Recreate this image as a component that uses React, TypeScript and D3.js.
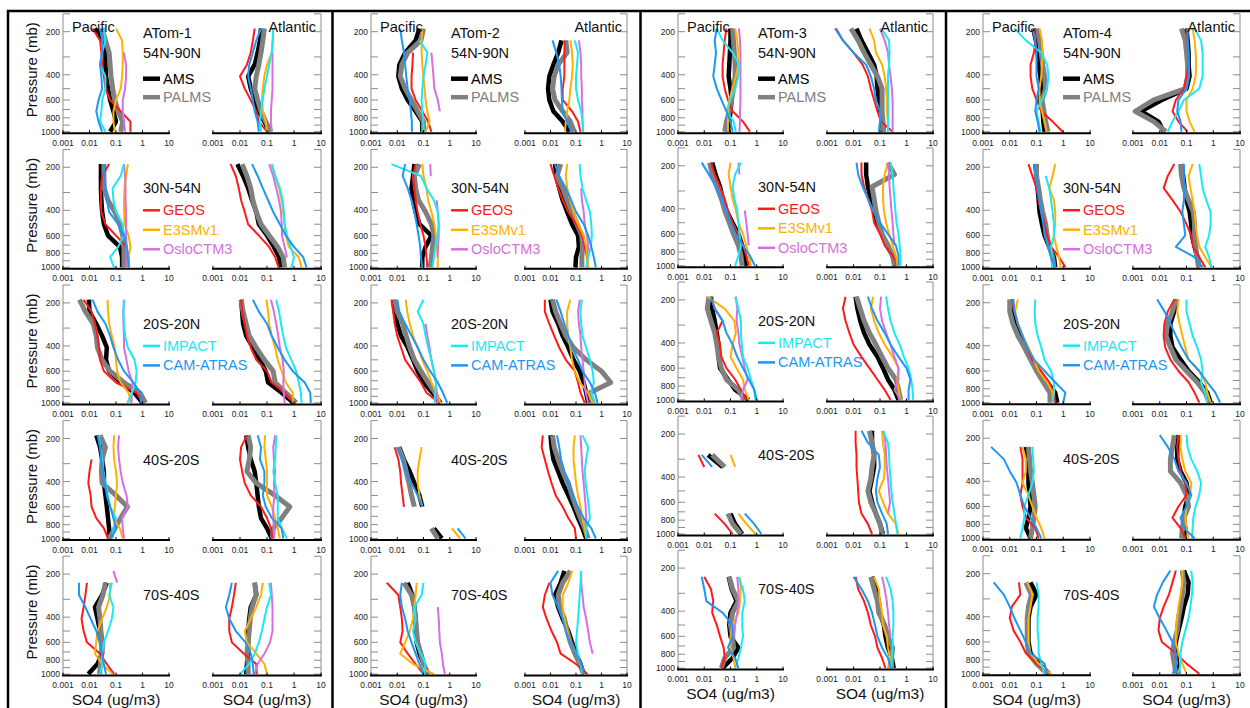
import React from 'react';
import * as d3 from 'd3';

const _ = null;
const LEVELS = [190, 230, 280, 340, 410, 500, 600, 720, 850, 1000];
const SERIES = ['AMS', 'PALMS', 'GEOS', 'E3SMv1', 'OsloCTM3', 'IMPACT', 'CAM-ATRAS'];
const COLORS = ['#000000', '#808080', '#ff1a1a', '#ffb000', '#d670e0', '#1ae8f5', '#1e96f5'];
const WIDTHS = [4.5, 5, 2, 2, 2, 2, 2];
const CAMPAIGNS = ['ATom-1', 'ATom-2', 'ATom-3', 'ATom-4'];
const REGIONS = ['54N-90N', '30N-54N', '20S-20N', '40S-20S', '70S-40S'];
const X_TICKS = [0.001, 0.01, 0.1, 1, 10];
const X_TICK_LABELS = ['0.001', '0.01', '0.1', '1', '10'];
const Y_TICKS = [200, 400, 600, 800, 1000];
const NIL = [_, _, _, _, _, _, _, _, _, _];

// order in each panel: AMS, PALMS, GEOS, E3SMv1, OsloCTM3, IMPACT, CAM-ATRAS
// ---------- ATom-1 ----------
const A1_R1_P = [
  [0.016, 0.035, 0.04, 0.04, 0.042, 0.05, 0.06, 0.08, 0.1, 0.06],
  [0.03, 0.04, 0.055, 0.06, 0.065, 0.075, 0.09, 0.12, 0.18, 0.15],
  [0.013, 0.025, 0.028, 0.03, 0.035, 0.04, 0.06, 0.15, 0.35, 0.35],
  [0.1, 0.17, 0.18, 0.18, 0.17, 0.15, 0.1, 0.08, 0.08, 0.09],
  [_, _, 0.2, 0.24, 0.24, 0.22, 0.18, 0.18, 0.2, 0.22],
  [0.035, 0.04, 0.03, 0.025, 0.04, 0.04, 0.03, 0.028, 0.025, 0.04],
  [0.025, 0.03, 0.03, 0.025, 0.028, 0.03, 0.022, 0.018, 0.022, 0.03],
];
const A1_R1_A = [
  [0.06, 0.055, 0.045, 0.035, 0.02, 0.025, 0.035, 0.05, 0.08, 0.12],
  [0.08, 0.07, 0.06, 0.05, 0.04, 0.035, 0.045, 0.06, 0.09, 0.14],
  [0.035, 0.03, 0.025, 0.018, 0.01, 0.015, 0.025, 0.04, 0.05, 0.1],
  [0.17, 0.17, 0.15, 0.1, 0.08, 0.07, 0.065, 0.07, 0.09, 0.1],
  [_, _, 0.16, 0.16, 0.16, 0.16, 0.15, 0.14, 0.14, 0.15],
  [0.17, 0.16, 0.15, 0.12, 0.1, 0.08, 0.07, 0.06, 0.055, 0.06],
  [0.06, 0.04, 0.03, 0.022, 0.02, 0.025, 0.03, 0.035, 0.045, 0.05],
];
const A1_R2_P = [
  [0.027, 0.027, 0.027, 0.028, 0.03, 0.035, 0.05, 0.14, 0.17, 0.17],
  [0.035, 0.035, 0.036, 0.05, 0.09, 0.14, 0.18, 0.2, 0.2, 0.2],
  [0.055, 0.03, 0.027, 0.027, 0.028, 0.04, 0.1, 0.25, 0.3, 0.3],
  [0.28, 0.24, 0.21, 0.2, 0.2, 0.21, 0.3, 0.35, 0.3, 0.3],
  [0.2, 0.22, 0.23, 0.23, 0.24, 0.24, 0.24, 0.25, 0.25, 0.25],
  [0.2, 0.15, 0.075, 0.08, 0.1, 0.18, 0.2, 0.12, 0.06, 0.085],
  [0.035, 0.035, 0.04, 0.045, 0.055, 0.12, 0.2, 0.26, 0.28, 0.3],
];
const A1_R2_A = [
  [0.008, 0.013, 0.02, 0.028, 0.04, 0.05, 0.1, 0.18, 0.28, 0.32],
  [0.012, 0.018, 0.025, 0.03, 0.04, 0.06, 0.12, 0.25, 0.4, 0.45],
  [0.0045, 0.007, 0.009, 0.011, 0.015, 0.02, 0.05, 0.12, 0.2, 0.27],
  [0.15, 0.2, 0.28, 0.35, 0.4, 0.45, 0.5, 0.65, 1.5, 1.9],
  [0.12, 0.17, 0.22, 0.28, 0.33, 0.35, 0.36, 0.45, 0.55, _],
  [0.15, 0.2, 0.3, 0.38, 0.42, 0.45, 0.55, 0.75, 1.0, 0.8],
  [0.028, 0.045, 0.07, 0.11, 0.17, 0.3, 0.5, 1.0, 2.2, 2.9],
];
const A1_R3_P = [
  [0.0095, 0.01, 0.018, 0.03, 0.045, 0.042, 0.055, 0.15, 0.5, 1.0],
  [0.0042, 0.007, 0.014, 0.018, 0.02, 0.03, 0.06, 0.2, 0.8, 1.3],
  [0.006, 0.012, 0.016, 0.02, 0.023, 0.025, 0.035, 0.1, 0.6, 1.0],
  [0.048, 0.05, 0.055, 0.07, 0.09, 0.1, 0.11, 0.15, 0.3, 0.36],
  [0.2, 0.19, 0.19, 0.2, 0.2, 0.25, 0.3, 0.42, 0.4, 0.38],
  [0.2, 0.19, 0.2, 0.22, 0.28, 0.5, 0.6, 0.55, 0.4, 0.27],
  [0.013, 0.02, 0.04, 0.06, 0.08, 0.12, 0.2, 0.45, 0.85, 0.9],
];
const A1_R3_A = [
  [0.011, 0.012, 0.013, 0.017, 0.03, 0.055, 0.09, 0.11, 0.35, 0.95],
  [0.011, 0.013, 0.017, 0.022, 0.04, 0.08, 0.17, 0.2, 0.5, 1.2],
  [0.011, 0.012, 0.015, 0.018, 0.025, 0.04, 0.1, 0.15, 0.45, 1.0],
  [0.095, 0.11, 0.12, 0.15, 0.2, 0.25, 0.35, 0.5, 0.9, 0.95],
  [0.14, 0.18, 0.22, 0.26, 0.3, 0.38, 0.42, 0.4, 0.42, 0.45],
  [0.22, 0.28, 0.33, 0.4, 0.5, 0.8, 1.2, 1.5, 1.8, 1.9],
  [0.03, 0.05, 0.1, 0.15, 0.25, 0.45, 0.9, 2.5, 4.0, 4.2],
];
const A1_R4_P = [
  [0.018, 0.025, 0.03, 0.035, 0.035, 0.04, 0.045, 0.05, 0.055, 0.055],
  [0.025, 0.04, 0.03, 0.028, 0.03, 0.1, 0.27, 0.15, 0.09, 0.055],
  [_, _, 0.012, 0.01, 0.009, 0.011, 0.012, 0.018, 0.035, 0.05],
  [0.085, 0.08, 0.085, 0.1, 0.11, 0.1, 0.09, 0.08, 0.14, 0.18],
  [0.13, 0.12, 0.13, 0.15, 0.18, 0.25, 0.28, 0.17, 0.18, 0.2],
  [0.022, 0.026, 0.03, 0.034, 0.04, 0.05, 0.06, 0.1, 0.08, 0.075],
  [0.02, 0.025, 0.028, 0.033, 0.038, 0.045, 0.06, 0.08, 0.1, 0.065],
];
const A1_R4_A = [
  [0.017, 0.02, 0.025, 0.035, 0.04, 0.045, 0.05, 0.06, 0.1, 0.15],
  [0.02, 0.025, 0.022, 0.018, 0.04, 0.2, 0.7, 0.35, 0.17, 0.16],
  [0.018, 0.011, 0.01, 0.012, 0.015, 0.025, 0.06, 0.1, 0.14, 0.16],
  [0.085, 0.08, 0.09, 0.1, 0.1, 0.1, 0.15, 0.2, 0.25, 0.3],
  [0.2, 0.17, 0.18, 0.2, 0.18, 0.19, 0.17, 0.17, 0.18, 0.18],
  [0.22, 0.21, 0.2, 0.17, 0.2, 0.25, 0.25, 0.25, 0.35, 0.55],
  [0.045, 0.06, 0.055, 0.08, 0.08, 0.07, 0.09, 0.15, 0.35, 0.4],
];
const A1_R5_P = [
  [_, 0.045, 0.03, 0.016, 0.02, 0.025, 0.03, 0.03, 0.02, 0.009],
  [_, 0.04, 0.032, 0.022, 0.025, 0.027, 0.03, 0.028, 0.026, 0.024],
  [_, 0.008, 0.007, 0.006, 0.005, 0.006, 0.008, 0.025, 0.045, 0.085],
  [_, 0.06, 0.06, 0.045, 0.03, 0.02, 0.018, 0.016, 0.03, 0.075],
  [0.08, 0.11, _, _, _, _, _, _, _, _],
  [_, 0.07, 0.055, 0.08, 0.07, 0.05, 0.035, 0.03, 0.03, 0.025],
  [_, 0.004, 0.004, 0.007, 0.011, 0.018, 0.024, 0.03, 0.035, 0.042],
];
const A1_R5_A = [
  [_, 0.035, 0.04, 0.025, 0.022, 0.02, 0.02, 0.02, 0.018, 0.017],
  [_, 0.035, 0.04, 0.028, 0.024, 0.022, 0.02, 0.018, 0.02, 0.02],
  [_, 0.007, 0.006, 0.005, 0.004, 0.004, 0.005, 0.014, 0.04, 0.042],
  [_, 0.07, 0.06, 0.04, 0.025, 0.015, 0.018, 0.04, 0.08, 0.1],
  [_, 0.14, 0.15, 0.16, 0.16, 0.16, 0.13, 0.08, 0.045, 0.035],
  [_, 0.12, 0.14, 0.1, 0.08, 0.065, 0.05, 0.035, 0.022, 0.01],
  [_, 0.005, 0.004, 0.003, 0.004, 0.007, 0.016, 0.025, 0.03, 0.032],
];

// ---------- ATom-2 ----------
const A2_R1_P = [
  [0.07, 0.05, 0.02, 0.012, 0.011, 0.015, 0.025, 0.05, 0.09, 0.09],
  [0.1, 0.08, 0.025, 0.015, 0.013, 0.02, 0.035, 0.06, 0.1, 0.1],
  [_, _, 0.04, 0.038, 0.035, 0.035, 0.05, 0.09, 0.15, 0.2],
  [0.09, 0.085, 0.085, 0.09, 0.1, 0.11, 0.12, 0.14, 0.17, 0.12],
  [_, _, 0.2, 0.22, 0.24, 0.26, 0.35, 0.42, _, _],
  [_, 0.07, 0.14, 0.12, 0.1, 0.09, 0.085, 0.09, 0.1, 0.1],
  [0.013, 0.015, 0.018, 0.02, 0.022, 0.025, 0.03, 0.033, 0.036, 0.036],
];
const A2_R1_A = [
  [_, 0.027, 0.02, 0.013, 0.009, 0.008, 0.009, 0.013, 0.03, 0.055],
  [_, 0.04, 0.045, 0.02, 0.014, 0.012, 0.015, 0.03, 0.06, 0.085],
  [_, 0.036, 0.035, 0.035, 0.035, 0.03, 0.03, 0.07, 0.12, 0.15],
  [_, 0.06, 0.07, 0.075, 0.07, 0.06, 0.055, 0.045, 0.04, 0.037],
  [_, 0.13, 0.15, 0.16, 0.16, 0.17, 0.17, 0.18, 0.18, 0.19],
  [_, 0.09, 0.12, 0.11, 0.1, 0.1, 0.12, 0.16, 0.18, 0.19],
  [_, 0.012, 0.017, 0.022, 0.025, 0.027, 0.028, 0.03, 0.045, 0.065],
];
const A2_R2_P = [
  [0.045, 0.04, 0.035, 0.04, 0.05, 0.07, 0.2, 0.12, 0.09, 0.09],
  [0.07, 0.045, 0.05, 0.065, 0.12, 0.2, 0.25, 0.22, 0.2, 0.18],
  [0.05, 0.04, 0.045, 0.05, 0.06, 0.075, 0.1, 0.12, 0.13, 0.14],
  [0.09, 0.1, 0.13, 0.15, 0.2, 0.26, 0.3, 0.32, 0.35, 0.35],
  [0.18, 0.19, _, 0.32, 0.35, 0.38, 0.38, 0.36, 0.34, _],
  [0.006, 0.08, 0.13, 0.25, 0.35, 0.38, 0.35, 0.28, 0.25, 0.22],
  [0.02, 0.016, 0.025, 0.035, 0.045, 0.055, 0.065, 0.075, 0.08, 0.09],
];
const A2_R2_A = [
  [0.015, 0.017, 0.022, 0.03, 0.045, 0.07, 0.12, 0.13, 0.1, 0.095],
  [0.025, 0.018, 0.03, 0.045, 0.07, 0.11, 0.17, 0.18, 0.17, 0.17],
  [0.01, 0.014, 0.02, 0.03, 0.05, 0.1, 0.18, 0.22, 0.27, 0.3],
  [0.045, 0.04, 0.045, 0.06, 0.08, 0.12, 0.2, 0.25, 0.28, 0.3],
  [_, _, 0.16, 0.17, 0.2, 0.22, 0.27, 0.3, 0.3, _],
  [0.14, 0.15, 0.18, 0.25, 0.35, 0.4, 0.42, 0.38, 0.3, 0.25],
  [0.015, 0.022, 0.04, 0.065, 0.1, 0.2, 0.3, 0.4, 0.5, 0.6],
];
const A2_R3_P = [
  [0.007, 0.008, 0.01, 0.014, 0.025, 0.04, 0.06, 0.1, 0.22, 0.45],
  [0.008, 0.01, 0.016, 0.022, 0.03, 0.045, 0.08, 0.15, 0.28, 0.38],
  [0.006, 0.007, 0.008, 0.01, 0.014, 0.02, 0.04, 0.08, 0.13, 0.4],
  [0.021, 0.024, 0.03, 0.04, 0.06, 0.09, 0.14, 0.2, 0.3, 0.45],
  [_, _, 0.12, 0.14, 0.17, 0.2, 0.25, 0.3, 0.32, 0.35],
  [0.1, 0.06, 0.1, 0.12, 0.15, 0.2, 0.25, 0.3, 0.28, 0.26],
  [0.01, 0.012, 0.02, 0.035, 0.06, 0.1, 0.18, 0.35, 0.55, 0.8],
];
const A2_R3_A = [
  [0.01, 0.012, 0.02, 0.03, 0.05, 0.08, 0.14, 0.2, 0.25, 0.3],
  [0.012, 0.016, 0.025, 0.04, 0.08, 0.25, 1.0, 2.3, 0.35, 0.45],
  [0.006, 0.006, 0.009, 0.014, 0.022, 0.04, 0.09, 0.12, 0.15, 0.22],
  [0.06, 0.045, 0.045, 0.05, 0.06, 0.07, 0.09, 0.14, 0.3, 0.45],
  [0.14, 0.12, 0.13, 0.15, 0.16, 0.18, 0.2, 0.22, 0.24, 0.3],
  [0.17, 0.15, 0.16, 0.18, 0.25, 0.35, 0.45, 0.5, 0.4, 0.55],
  [0.017, 0.025, 0.035, 0.05, 0.07, 0.12, 0.18, 0.35, 0.55, 0.7],
];
const A2_R4_P = [
  [_, 0.012, 0.018, 0.03, 0.045, 0.07, 0.09, _, 0.25, 0.5],
  [_, 0.011, 0.017, 0.022, 0.028, 0.035, 0.045, _, 0.2, 0.35],
  [_, 0.008, 0.011, 0.013, 0.014, 0.016, 0.018, _, _, _],
  [_, 0.085, 0.07, 0.06, 0.06, 0.07, 0.09, _, 1.2, 2.5],
  NIL,
  NIL,
  [_, 0.01, 0.015, 0.022, 0.035, 0.06, 0.09, _, 2.0, 4.0],
];
const A2_R4_A = [
  [0.01, 0.011, 0.013, 0.02, 0.03, 0.05, 0.08, 0.12, 0.18, 0.25],
  [0.012, 0.014, 0.02, 0.03, 0.05, 0.07, 0.1, 0.15, 0.22, 0.3],
  [0.005, 0.0045, 0.006, 0.008, 0.011, 0.016, 0.03, 0.05, 0.09, 0.1],
  [0.09, 0.08, 0.08, 0.09, 0.1, 0.12, 0.15, 0.18, 0.22, 0.25],
  [0.15, 0.16, 0.17, 0.18, 0.2, 0.22, 0.24, 0.25, 0.25, 0.25],
  [0.18, 0.3, 0.25, 0.22, 0.24, 0.28, 0.32, 0.35, 0.25, 0.25],
  [0.018, 0.022, 0.026, 0.035, 0.05, 0.07, 0.12, 0.2, 0.4, 0.6],
];
const A2_R5_P = [
  [_, 0.025, 0.038, 0.045, 0.05, 0.05, 0.055, 0.07, 0.1, 0.15],
  [_, 0.018, 0.035, 0.045, 0.05, 0.055, 0.06, 0.08, 0.1, 0.15],
  [_, 0.004, 0.011, 0.013, 0.015, 0.016, 0.013, 0.025, 0.05, 0.1],
  [_, 0.055, 0.05, 0.045, 0.04, 0.03, 0.02, 0.013, 0.04, 0.25],
  [_, _, _, 0.35, 0.38, 0.4, 0.42, 0.5, 0.55, 0.65],
  [_, 0.1, 0.085, 0.045, 0.05, 0.04, 0.05, 0.08, 0.12, 0.1],
  [_, 0.015, 0.013, 0.015, 0.02, 0.025, 0.035, 0.05, 0.07, 0.1],
];
const A2_R5_A = [
  [0.035, 0.025, 0.015, 0.02, 0.03, 0.05, 0.07, 0.1, 0.15, 0.2],
  [0.06, 0.03, 0.02, 0.023, 0.035, 0.045, 0.06, 0.09, 0.14, 0.2],
  [_, 0.009, 0.006, 0.005, 0.007, 0.011, 0.018, 0.025, 0.1, 0.28],
  [0.07, 0.05, 0.03, 0.03, 0.035, 0.045, 0.06, 0.1, 0.15, 0.2],
  [0.16, 0.16, 0.18, 0.2, 0.25, 0.3, 0.35, 0.45, _, _],
  [0.16, 0.15, 0.14, 0.13, 0.12, 0.11, 0.1, 0.12, 0.15, 0.18],
  [0.02, 0.01, 0.012, 0.02, 0.03, 0.04, 0.06, 0.1, 0.16, 0.2],
];

// ---------- ATom-3 ----------
const A3_R1_P = [
  [0.1, 0.1, 0.095, 0.09, 0.085, 0.1, 0.11, 0.1, 0.09, 0.08],
  [0.12, 0.13, 0.14, 0.15, 0.15, 0.13, 0.11, 0.09, 0.07, 0.06],
  [0.07, 0.06, 0.055, 0.05, 0.05, 0.06, 0.08, 0.12, 0.3, 0.55],
  [0.15, 0.18, 0.2, 0.2, 0.16, 0.12, 0.09, 0.08, 0.08, 0.08],
  [0.21, 0.23, 0.24, 0.24, 0.24, 0.24, 0.24, 0.23, 0.23, 0.22],
  [0.03, 0.05, 0.12, 0.22, 0.2, 0.15, 0.1, 0.07, 0.13, 0.16],
  [0.03, 0.025, 0.028, 0.025, 0.022, 0.03, 0.045, 0.07, 0.1, 0.12],
];
const A3_R1_A = [
  [0.013, 0.02, 0.035, 0.06, 0.075, 0.08, 0.09, 0.1, 0.12, 0.13],
  [0.008, 0.015, 0.025, 0.045, 0.08, 0.12, 0.12, 0.12, 0.13, 0.14],
  [0.0022, 0.004, 0.01, 0.022, 0.035, 0.045, 0.06, 0.08, 0.11, 0.3],
  [0.04, 0.06, 0.07, 0.12, 0.15, 0.17, 0.18, 0.18, 0.2, 0.2],
  [0.1, 0.15, 0.2, 0.22, 0.25, 0.28, 0.3, 0.3, 0.3, 0.3],
  [0.11, 0.22, 0.23, 0.22, 0.2, 0.2, 0.2, 0.2, 0.2, 0.2],
  [0.002, 0.004, 0.01, 0.03, 0.045, 0.06, 0.07, 0.1, 0.1, 0.09],
];
const A3_R2_P = [
  [0.02, 0.027, 0.04, 0.05, 0.07, 0.12, 0.2, 0.28, 0.35, 0.4],
  [0.016, 0.02, 0.03, 0.045, 0.06, 0.09, 0.13, 0.2, 0.25, 0.28],
  [0.018, 0.025, 0.04, 0.06, 0.08, 0.12, 0.2, 0.3, 0.4, 0.5],
  [0.1, 0.085, 0.1, 0.12, 0.16, 0.2, 0.3, 0.4, 0.5, 0.6],
  [0.2, 0.22, _, _, 0.35, 0.4, 0.45, 0.5, _, _],
  [0.25, 0.15, 0.12, 0.14, 0.18, 0.2, 0.22, 0.25, 0.2, 0.15],
  [0.008, 0.015, 0.028, 0.045, 0.07, 0.1, 0.16, 0.3, 0.55, 0.85],
];
const A3_R2_A = [
  [0.03, 0.03, 0.035, 0.045, 0.06, 0.08, 0.12, 0.18, 0.3, 0.4],
  [0.2, 0.35, 0.05, 0.06, 0.07, 0.09, 0.12, 0.2, 0.3, 0.35],
  [0.02, 0.02, 0.025, 0.035, 0.05, 0.06, 0.1, 0.15, 0.3, 0.45],
  [0.2, 0.15, 0.13, 0.13, 0.14, 0.17, 0.22, 0.3, 0.4, 0.45],
  [0.2, 0.22, 0.23, 0.25, 0.27, 0.3, 0.32, 0.35, _, _],
  [0.25, 0.3, 0.32, 0.35, 0.38, 0.42, 0.5, 0.55, 0.6, 0.6],
  [0.013, 0.015, 0.022, 0.035, 0.055, 0.1, 0.2, 0.4, 0.5, 0.5],
];
const A3_R3_P = [
  [0.018, 0.02, 0.025, 0.03, 0.035, 0.035, 0.04, 0.08, 0.15, 0.5],
  [0.015, 0.013, 0.018, 0.025, 0.03, 0.035, 0.045, 0.07, 0.2, 0.35],
  [0.018, 0.025, 0.05, 0.03, 0.04, 0.045, 0.07, 0.15, 0.25, 0.4],
  [0.013, 0.06, 0.14, 0.16, 0.12, 0.1, 0.17, 0.3, 0.35, 0.5],
  [0.16, 0.18, 0.17, 0.2, 0.22, 0.28, 0.35, 0.45, 0.3, 0.25],
  [0.15, 0.2, 0.25, 0.25, 0.27, 0.3, 0.45, 0.6, 0.8, 0.9],
  [0.018, 0.025, 0.05, 0.07, 0.12, 0.18, 0.3, 0.5, 0.8, 1.0],
];
const A3_R3_A = [
  [0.012, 0.014, 0.018, 0.025, 0.04, 0.08, 0.13, 0.2, 0.35, 0.5],
  [0.013, 0.018, 0.025, 0.04, 0.07, 0.12, 0.2, 0.4, 0.5, 0.6],
  [0.005, 0.004, 0.005, 0.007, 0.01, 0.02, 0.04, 0.08, 0.15, 0.25],
  [0.055, 0.045, 0.06, 0.09, 0.15, 0.3, 0.5, 0.45, 0.5, 0.6],
  [0.11, 0.1, 0.12, 0.17, 0.25, 0.35, 0.5, 0.5, 0.35, 0.6],
  [0.17, 0.2, 0.25, 0.35, 0.55, 0.8, 1.2, 1.5, 1.7, 1.8],
  [0.035, 0.05, 0.08, 0.15, 0.25, 0.5, 1.0, 1.4, 1.2, 1.2],
];
const A3_R4_P = [
  [_, _, 0.014, 0.05, _, _, _, 0.1, 0.15, 0.28],
  [_, _, 0.02, 0.06, _, _, _, 0.08, 0.12, 0.25],
  [_, _, 0.006, 0.01, _, _, _, 0.025, 0.06, 0.12],
  [_, _, 0.1, 0.15, _, _, _, 0.2, 0.4, 0.9],
  NIL,
  NIL,
  [_, _, 0.008, 0.02, _, _, _, 0.35, 0.8, 1.5],
];
const A3_R4_A = [
  [0.05, 0.05, 0.06, 0.06, 0.05, 0.04, 0.05, 0.07, 0.1, 0.13],
  [0.04, 0.05, 0.06, 0.05, 0.045, 0.035, 0.045, 0.07, 0.1, 0.12],
  [0.012, 0.012, 0.013, 0.013, 0.014, 0.015, 0.016, 0.02, 0.035, 0.05],
  [0.12, 0.13, 0.15, 0.15, 0.14, 0.09, 0.13, 0.2, 0.4, 0.5],
  [0.14, 0.16, 0.17, 0.18, 0.2, 0.22, 0.24, 0.2, _, _],
  [0.13, 0.2, 0.22, 0.23, 0.25, 0.27, 0.3, 0.35, 0.4, 0.45],
  [0.02, 0.035, 0.09, 0.1, 0.08, 0.07, 0.08, 0.12, 0.18, 0.2],
];
const A3_R5_P = [
  [_, 0.085, 0.11, 0.17, 0.1, 0.09, 0.1, 0.2, 0.12, 0.05],
  [_, 0.09, 0.12, 0.2, 0.12, 0.1, 0.12, 0.13, 0.06, 0.045],
  [_, 0.01, 0.018, 0.022, 0.02, 0.03, 0.04, 0.055, 0.06, 0.045],
  [_, 0.22, 0.25, 0.23, 0.2, 0.12, 0.1, 0.1, 0.13, 0.15],
  [_, 0.18, 0.2, 0.2, 0.18, 0.15, 0.14, _, _, _],
  [_, 0.2, 0.3, 0.35, 0.28, 0.28, 0.3, 0.25, 0.2, 0.15],
  [_, 0.008, 0.01, 0.012, 0.05, 0.12, 0.12, 0.08, 0.15, 0.2],
];
const A3_R5_A = [
  [_, 0.05, 0.07, 0.09, 0.1, 0.14, 0.16, 0.2, 0.28, 0.33],
  [_, 0.045, 0.06, 0.08, 0.09, 0.15, 0.2, 0.3, 0.27, 0.28],
  [_, 0.012, 0.015, 0.025, 0.035, 0.045, 0.065, 0.08, 0.12, 0.16],
  [_, 0.06, 0.09, 0.1, 0.12, 0.13, 0.18, 0.2, 0.24, 0.2],
  [_, 0.12, 0.15, 0.18, 0.2, 0.22, 0.25, _, _, _],
  [_, 0.17, 0.25, 0.3, 0.32, 0.32, 0.3, 0.3, 0.28, 0.27],
  [_, 0.01, 0.02, 0.035, 0.05, 0.065, 0.08, 0.12, 0.2, 0.25],
];

// ---------- ATom-4 ----------
const A4_R1_P = [
  [0.075, 0.095, 0.11, 0.12, 0.14, 0.15, 0.13, 0.17, 0.18, 0.2],
  [0.1, 0.13, 0.15, 0.17, 0.2, 0.22, 0.16, 0.19, 0.22, 0.27],
  [0.09, 0.09, 0.08, 0.06, 0.06, 0.07, 0.1, 0.15, 0.4, 0.95],
  [0.13, 0.16, 0.17, 0.16, 0.15, 0.13, 0.13, 0.16, 0.2, 0.24],
  NIL,
  [0.015, 0.04, 0.15, 0.25, 0.28, 0.25, 0.16, 0.1, 0.12, 0.14],
  [0.07, 0.09, 0.1, 0.1, 0.1, 0.12, 0.1, 0.09, 0.11, 0.13],
];
const A4_R1_A = [
  [0.1, 0.11, 0.12, 0.12, 0.13, 0.1, 0.012, 0.002, 0.009, 0.014],
  [0.065, 0.09, 0.1, 0.11, 0.11, 0.09, 0.006, 0.0012, 0.006, 0.017],
  [0.1, 0.11, 0.12, 0.12, 0.1, 0.08, 0.04, 0.03, 0.05, 0.11],
  [0.17, 0.2, 0.22, 0.23, 0.22, 0.17, 0.1, 0.1, 0.13, 0.2],
  NIL,
  [0.2, 0.35, 0.4, 0.4, 0.4, 0.3, 0.08, 0.05, 0.03, 0.02],
  [0.11, 0.11, 0.12, 0.12, 0.12, 0.1, 0.05, 0.045, 0.06, 0.065],
];
const A4_R2_P = [
  [0.09, 0.1, 0.11, 0.12, 0.13, 0.16, 0.2, 0.3, 0.45, 0.5],
  [0.1, 0.1, 0.12, 0.14, 0.17, 0.22, 0.25, 0.3, 0.4, 0.45],
  [0.05, 0.07, 0.1, 0.12, 0.15, 0.2, 0.25, 0.35, 0.7, 1.2],
  [0.5, 0.4, 0.3, 0.45, 0.5, 0.5, 0.45, 0.55, 0.7, 0.8],
  NIL,
  [_, 0.22, 0.3, 0.35, 0.4, 0.45, 0.45, 0.35, 0.38, 0.4],
  [0.08, 0.1, 0.11, 0.13, 0.15, 0.18, 0.2, 0.28, 0.35, 0.5],
];
const A4_R2_A = [
  [0.065, 0.075, 0.085, 0.1, 0.13, 0.15, 0.16, 0.2, 0.25, 0.3],
  [0.06, 0.065, 0.08, 0.12, 0.18, 0.2, 0.2, 0.22, 0.25, 0.28],
  [0.035, 0.02, 0.014, 0.03, 0.06, 0.1, 0.15, 0.18, 0.3, 0.5],
  [0.17, 0.12, 0.14, 0.17, 0.2, 0.22, 0.25, 0.3, 0.5, 0.85],
  NIL,
  [0.3, 0.35, 0.4, 0.55, 0.8, 0.8, 0.7, 0.5, 0.7, 0.85],
  [0.08, 0.08, 0.08, 0.08, 0.07, 0.08, 0.09, 0.04, 0.2, 0.4],
];
const A4_R3_P = [
  [0.012, 0.013, 0.017, 0.025, 0.04, 0.07, 0.12, 0.25, 0.5, 0.6],
  [0.01, 0.01, 0.013, 0.02, 0.035, 0.06, 0.1, 0.18, 0.32, 0.32],
  [0.012, 0.015, 0.02, 0.03, 0.045, 0.07, 0.15, 0.3, 0.45, 0.5],
  [0.02, 0.016, 0.02, 0.03, 0.05, 0.08, 0.12, 0.25, 0.4, 0.4],
  NIL,
  [0.09, 0.085, 0.09, 0.11, 0.15, 0.2, 0.35, 0.45, 0.45, 0.4],
  [0.013, 0.015, 0.02, 0.03, 0.045, 0.08, 0.2, 0.5, 1.2, 1.0],
];
const A4_R3_A = [
  [0.045, 0.035, 0.025, 0.025, 0.03, 0.06, 0.12, 0.3, 0.6, 0.8],
  [0.04, 0.03, 0.02, 0.017, 0.025, 0.04, 0.1, 0.25, 0.5, 0.7],
  [0.035, 0.02, 0.015, 0.014, 0.016, 0.025, 0.05, 0.12, 0.2, 0.3],
  [0.05, 0.045, 0.055, 0.07, 0.09, 0.12, 0.3, 0.5, 0.6, 0.8],
  NIL,
  [0.1, 0.1, 0.13, 0.17, 0.25, 0.35, 0.4, 0.35, 0.5, 0.6],
  [0.008, 0.015, 0.025, 0.04, 0.065, 0.12, 0.3, 0.6, 1.2, 1.8],
];
const A4_R4_P = [
  [_, 0.04, 0.045, 0.05, 0.05, 0.055, 0.06, 0.05, 0.04, 0.06],
  [_, 0.05, 0.055, 0.06, 0.07, 0.08, 0.09, 0.08, 0.07, 0.06],
  [_, 0.025, 0.03, 0.03, 0.03, 0.025, 0.03, 0.04, 0.09, 0.12],
  [_, 0.03, 0.04, 0.04, 0.03, 0.05, 0.07, 0.1, 0.15, 0.2],
  NIL,
  [_, 0.07, 0.075, 0.08, 0.07, 0.05, 0.035, 0.035, 0.03, 0.025],
  [_, 0.002, 0.006, 0.01, 0.018, 0.025, 0.035, 0.06, 0.1, 0.15],
];
const A4_R4_A = [
  [0.05, 0.045, 0.045, 0.06, 0.1, 0.12, 0.09, 0.08, 0.09, 0.08],
  [0.035, 0.03, 0.025, 0.025, 0.06, 0.1, 0.12, 0.08, 0.07, 0.065],
  [0.05, 0.045, 0.05, 0.06, 0.09, 0.1, 0.05, 0.03, 0.06, 0.09],
  [0.06, 0.06, 0.07, 0.09, 0.15, 0.14, 0.1, 0.09, 0.1, 0.12],
  NIL,
  [0.1, 0.11, 0.15, 0.25, 0.35, 0.3, 0.22, 0.18, 0.17, 0.16],
  [0.01, 0.02, 0.035, 0.05, 0.1, 0.15, 0.1, 0.06, 0.08, 0.2],
];
const A4_R5_P = [
  [_, 0.06, 0.1, 0.06, 0.05, 0.05, 0.05, 0.06, 0.12, 0.3],
  [_, 0.04, 0.065, 0.05, 0.045, 0.045, 0.045, 0.05, 0.1, 0.25],
  [_, 0.022, 0.025, 0.012, 0.01, 0.014, 0.025, 0.04, 0.1, 0.3],
  [_, 0.045, 0.07, 0.06, 0.05, 0.05, 0.05, 0.06, 0.12, 0.35],
  NIL,
  [_, 0.1, 0.12, 0.12, 0.11, 0.11, 0.12, 0.12, 0.15, 0.2],
  [_, 0.0025, 0.006, 0.01, 0.015, 0.025, 0.04, 0.06, 0.2, 0.25],
];
const A4_R5_A = [
  [0.08, 0.12, 0.11, 0.08, 0.065, 0.05, 0.04, 0.04, 0.045, 0.05],
  [0.07, 0.08, 0.07, 0.06, 0.05, 0.045, 0.035, 0.03, 0.035, 0.04],
  [0.04, 0.03, 0.022, 0.014, 0.01, 0.009, 0.012, 0.04, 0.1, 0.3],
  [0.07, 0.07, 0.06, 0.05, 0.045, 0.04, 0.04, 0.05, 0.07, 0.1],
  NIL,
  [0.15, 0.17, 0.16, 0.14, 0.12, 0.09, 0.07, 0.06, 0.06, 0.05],
  [0.025, 0.013, 0.008, 0.006, 0.01, 0.018, 0.03, 0.04, 0.045, 0.03],
];

const PANELS = [
  [[A1_R1_P, A1_R1_A], [A1_R2_P, A1_R2_A], [A1_R3_P, A1_R3_A], [A1_R4_P, A1_R4_A], [A1_R5_P, A1_R5_A]],
  [[A2_R1_P, A2_R1_A], [A2_R2_P, A2_R2_A], [A2_R3_P, A2_R3_A], [A2_R4_P, A2_R4_A], [A2_R5_P, A2_R5_A]],
  [[A3_R1_P, A3_R1_A], [A3_R2_P, A3_R2_A], [A3_R3_P, A3_R3_A], [A3_R4_P, A3_R4_A], [A3_R5_P, A3_R5_A]],
  [[A4_R1_P, A4_R1_A], [A4_R2_P, A4_R2_A], [A4_R3_P, A4_R3_A], [A4_R4_P, A4_R4_A], [A4_R5_P, A4_R5_A]],
];

// layout (pixel geometry, not data)
const COL_LAYOUT = [
  { pac: [63, 169], atl: [213, 321], y0: 31.7, step: 135.6 },
  { pac: [371, 476], atl: [525, 627], y0: 31.7, step: 135.6 },
  { pac: [678, 783], atl: [827, 933], y0: 31.7, step: 134.1 },
  { pac: [983, 1090], atl: [1133, 1240], y0: 31.7, step: 135.5 },
];
const LEGEND_BY_ROW = [[0, 1], [2, 3, 4], [5, 6], [], []];
const FONT = "'Liberation Sans', Arial, Helvetica, sans-serif";
const AXIS_GRAY = '#8c8c8c';

function Panel({ col, row }: { col: number; row: number }) {
  const L = COL_LAYOUT[col];
  const y200 = L.y0 + L.step * row;
  const y = d3.scaleLog().domain([150, 1000]).range([y200 - 100 * Math.log(200 / 150) / Math.log(5), y200 + 100]);
  const yTop = y(150);
  const yBot = y(1000) + 1.5;
  const sides = [L.pac, L.atl];
  const els: any[] = [];
  const minorTicks = d3.range(200, 1001, 100);

  // left axis (Pacific)
  const xl = L.pac[0];
  els.push(<line key="la" x1={xl} x2={xl} y1={yTop} y2={yBot} stroke={AXIS_GRAY} strokeWidth={1} />);
  els.push(<line key="lat" x1={xl} x2={xl + 7} y1={yTop} y2={yTop} stroke={AXIS_GRAY} strokeWidth={1} />);
  minorTicks.forEach((p) =>
    els.push(<line key={'lt' + p} x1={xl} x2={xl + 7} y1={y(p)} y2={y(p)} stroke={AXIS_GRAY} strokeWidth={1} />)
  );
  Y_TICKS.forEach((p) =>
    els.push(
      <text key={'ly' + p} x={xl - 3} y={y(p)} textAnchor="end" dominantBaseline="central" fontSize={8.5} fill="#222">
        {p}
      </text>
    )
  );
  // right axis (Atlantic)
  const xr = L.atl[1];
  els.push(<line key="ra" x1={xr} x2={xr} y1={yTop} y2={yBot} stroke={AXIS_GRAY} strokeWidth={1} />);
  els.push(<line key="rat" x1={xr - 7} x2={xr} y1={yTop} y2={yTop} stroke={AXIS_GRAY} strokeWidth={1} />);
  minorTicks.forEach((p) =>
    els.push(<line key={'rt' + p} x1={xr - 7} x2={xr} y1={y(p)} y2={y(p)} stroke={AXIS_GRAY} strokeWidth={1} />)
  );

  sides.forEach((rng, s) => {
    const x = d3.scaleLog().domain([0.001, 10]).range(rng).clamp(true);
    const data = PANELS[col][row][s];
    const line = d3
      .line<number | null>()
      .defined((v) => v != null)
      .x((v) => x(v as number))
      .y((_v, i) => y(LEVELS[i]));
    data.forEach((vals, k) => {
      const d = line(vals as (number | null)[]);
      if (!d) return;
      els.push(
        <path
          key={`s${s}-${k}`}
          d={d}
          fill="none"
          stroke={COLORS[k]}
          strokeWidth={WIDTHS[k]}
          strokeLinejoin="round"
          strokeLinecap="butt"
        />
      );
    });
    // bottom axis
    els.push(<line key={'bx' + s} x1={rng[0] - 1} x2={rng[1] + 1} y1={yBot} y2={yBot} stroke="#000" strokeWidth={2} />);
    X_TICKS.forEach((t, i) => {
      els.push(<line key={`bt${s}-${i}`} x1={x(t)} x2={x(t)} y1={yBot} y2={yBot - 3} stroke="#000" strokeWidth={1} />);
      els.push(
        <text key={`bl${s}-${i}`} x={x(t)} y={yBot + 9.5} textAnchor="middle" dominantBaseline="central" fontSize={8.5} fill="#222">
          {X_TICK_LABELS[i]}
        </text>
      );
    });
    if (row === 4) {
      els.push(
        <text key={'xt' + s} x={(rng[0] + rng[1]) / 2} y={yBot + 24} textAnchor="middle" dominantBaseline="central" fontSize={15.5} fill="#111">
          SO4 (ug/m3)
        </text>
      );
    }
  });

  // Basin labels
  if (row === 0) {
    els.push(
      <text key="pac" x={L.pac[0] + 9} y={y200 - 5} dominantBaseline="central" fontSize={14.5} fill="#111">
        Pacific
      </text>
    );
    els.push(
      <text key="atl" x={L.atl[1] - 5} y={y200 - 5} textAnchor="end" dominantBaseline="central" fontSize={14.5} fill="#111">
        Atlantic
      </text>
    );
  }

  // Region label and legend
  const lx = L.pac[0] + 80;
  if (row === 0) {
    els.push(
      <text key="camp" x={lx} y={y200 + 1} dominantBaseline="central" fontSize={14.5} fill="#111">
        {CAMPAIGNS[col]}
      </text>
    );
  }
  els.push(
    <text key="reg" x={lx} y={y200 + 21} dominantBaseline="central" fontSize={14.5} fill="#111">
      {REGIONS[row]}
    </text>
  );
  const entries = LEGEND_BY_ROW[row];
  entries.forEach((k, j) => {
    const ly = row === 0 ? y200 + 47 + 18.5 * j : y200 + 43 + 19.5 * j;
    els.push(<line key={'lgl' + k} x1={lx} x2={lx + 17} y1={ly} y2={ly} stroke={COLORS[k]} strokeWidth={k < 2 ? 4.5 : 2.5} />);
    els.push(
      <text key={'lgt' + k} x={lx + 20} y={ly} dominantBaseline="central" fontSize={14.5} fill={COLORS[k]}>
        {SERIES[k]}
      </text>
    );
  });

  if (col === 0) {
    els.push(
      <text
        key="ylab"
        x={0}
        y={0}
        transform={`translate(31,${y200 + 38}) rotate(-90)`}
        textAnchor="middle"
        dominantBaseline="central"
        fontSize={15}
        fill="#111"
      >
        Pressure (mb)
      </text>
    );
  }
  return <g>{els}</g>;
}

export default function App() {
  const panels: any[] = [];
  for (let c = 0; c < 4; c++) for (let r = 0; r < 5; r++) panels.push(<Panel key={`${c}-${r}`} col={c} row={r} />);
  return (
    <svg
      width={1250}
      height={708}
      viewBox="0 0 1250 708"
      style={{ position: 'absolute', left: 0, top: 0, background: '#fff' }}
      fontFamily={FONT}
    >
      <rect x={0} y={0} width={1250} height={708} fill="#fff" />
      {panels}
      {/* frame lines */}
      <line x1={7} x2={1250} y1={11} y2={11} stroke="#000" strokeWidth={2.5} />
      <line x1={8} x2={8} y1={10} y2={708} stroke="#000" strokeWidth={2.5} />
      <line x1={332.5} x2={332.5} y1={10} y2={708} stroke="#000" strokeWidth={2.5} />
      <line x1={640.5} x2={640.5} y1={10} y2={708} stroke="#000" strokeWidth={2.5} />
      <line x1={946} x2={946} y1={10} y2={708} stroke="#000" strokeWidth={2.5} />
    </svg>
  );
}
